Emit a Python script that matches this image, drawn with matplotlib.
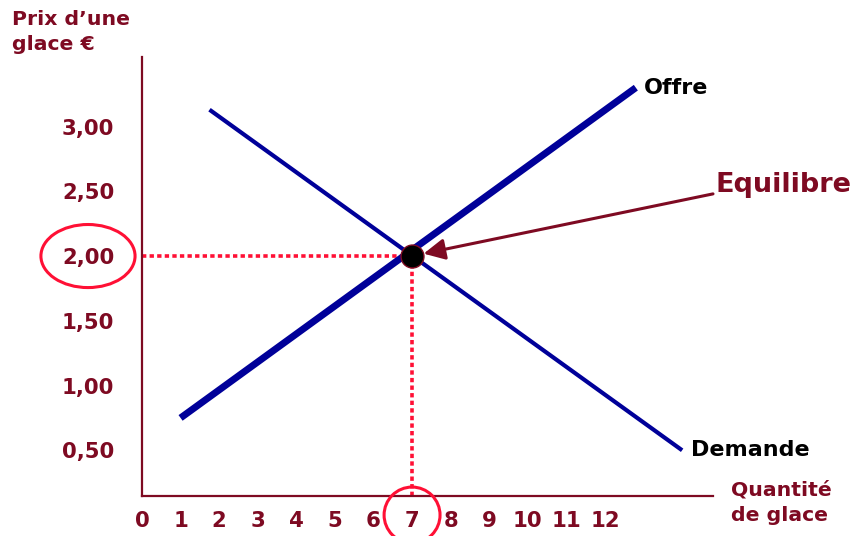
import matplotlib
matplotlib.use("Agg")
import matplotlib.pyplot as plt
from matplotlib.patches import Ellipse

# ---- data ----
x_ticks = list(range(0, 13))
x_ticklabels = [str(v) for v in x_ticks]
y_ticks = [0.5, 1.0, 1.5, 2.0, 2.5, 3.0]
y_ticklabels = ["0,50", "1,00", "1,50", "2,00", "2,50", "3,00"]

offre_q = [1.0, 12.8]
offre_p = [0.75, 3.30]
demande_q = [1.75, 14.0]
demande_p = [3.13, 0.50]

eq_q = 7
eq_p = 2.0

# ---- style ----
DARKRED = "#7E0A22"
BLUE = "#000099"
RED = "#FF1035"

plt.rcParams['font.family'] = ['DejaVu Sans']
plt.rcParams['font.weight'] = 'bold'

fig = plt.figure(figsize=(8.56, 5.36), dpi=100)
ax = fig.add_axes([142/856, 40/536, 571/856, 439/536])
ax.set_xlim(0, 14.8)
ax.set_ylim(0.147, 3.537)

for s in ['top', 'right']:
    ax.spines[s].set_visible(False)
for s in ['left', 'bottom']:
    ax.spines[s].set_color(DARKRED)
    ax.spines[s].set_linewidth(1.6)

ax.set_xticks(x_ticks)
ax.set_xticklabels(x_ticklabels)
ax.set_yticks(y_ticks)
ax.set_yticklabels(y_ticklabels)
ax.tick_params(axis='both', length=0, labelsize=15.3, labelcolor=DARKRED)
ax.tick_params(axis='x', pad=11)
ax.tick_params(axis='y', pad=20)
for lab in ax.get_xticklabels() + ax.get_yticklabels():
    lab.set_fontweight('bold')

# dotted guide lines
ymin = ax.get_ylim()[0]
ax.plot([0, eq_q], [eq_p, eq_p], color=RED, lw=2.6, dashes=(1.2, 0.9),
        solid_capstyle='butt', zorder=2)
ax.plot([eq_q, eq_q], [ymin, eq_p], color=RED, lw=2.6, dashes=(1.2, 0.9),
        solid_capstyle='butt', zorder=2)

# curves
ax.plot(demande_q, demande_p, color=BLUE, lw=3.0, solid_capstyle='butt', zorder=3)
ax.plot(offre_q, offre_p, color=BLUE, lw=5.0, solid_capstyle='butt', zorder=3)

# equilibrium point
ax.plot([eq_q], [eq_p], marker='o', markersize=16.5, markerfacecolor='black',
        markeredgecolor=DARKRED, markeredgewidth=1.0, zorder=5)

# curve labels
ax.annotate("Offre", xy=(offre_q[1], offre_p[1]), xytext=(6, 0),
            textcoords='offset points', ha='left', va='center',
            fontsize=16, fontweight='bold', color='black', annotation_clip=False)
ax.annotate("Demande", xy=(demande_q[1], demande_p[1]), xytext=(6.5, 0),
            textcoords='offset points', ha='left', va='center',
            fontsize=16, fontweight='bold', color='black', annotation_clip=False)

# Equilibre arrow + text
ax.annotate("", xy=(eq_q, eq_p), xytext=(14.8, 2.48),
            arrowprops=dict(arrowstyle='-|>,head_length=0.4,head_width=0.2',
                            mutation_scale=32, color=DARKRED, lw=2.2,
                            shrinkA=0, shrinkB=8.5),
            annotation_clip=False, zorder=4)
ax.text(14.86, 2.495, "Equilibre", ha='left', va='baseline', fontsize=19.5,
        fontweight='bold', color=DARKRED, clip_on=False)

# axis titles
fig.text(12/856, 1 - 10/536, "Prix d\u2019une\nglace \u20ac", ha='left', va='top',
         fontsize=14.7, fontweight='bold', color=DARKRED, linespacing=1.4)
fig.text(731/856, 1 - 481/536, "Quantit\u00e9\nde glace", ha='left', va='top',
         fontsize=14.7, fontweight='bold', color=DARKRED, linespacing=1.4)

# highlight circles
ax.add_patch(Ellipse((-1.4, 2.0), 2.44, 0.487, fill=False, edgecolor=RED,
                     lw=2.2, clip_on=False, zorder=6))
ax.add_patch(Ellipse((eq_q, 0.0), 1.45, 0.432, fill=False, edgecolor=RED,
                     lw=2.2, clip_on=False, zorder=6))

fig.savefig("out.png", dpi=100)
